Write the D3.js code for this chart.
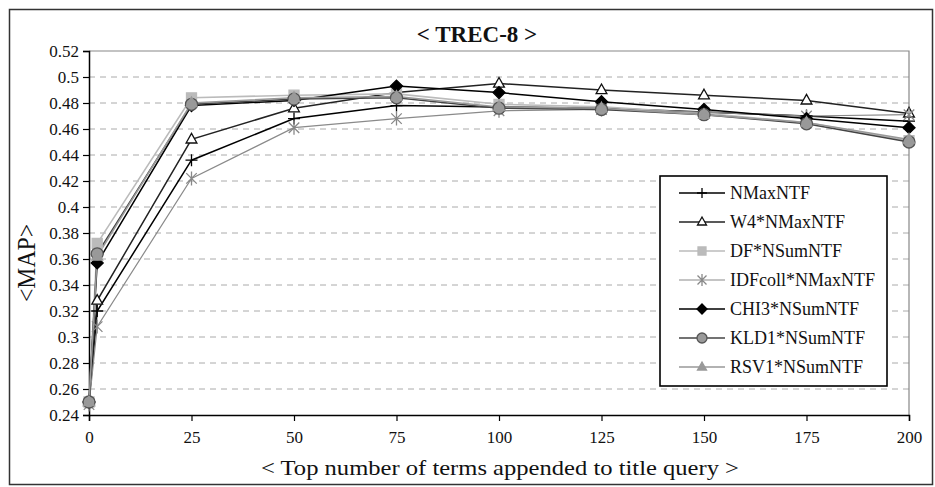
<!DOCTYPE html>
<html>
<head>
<meta charset="utf-8">
<script src="https://cdn.jsdelivr.net/npm/d3@7"></script>
<style>
  html, body { margin: 0; padding: 0; background: #fff; }
  svg { display: block; }
  text { font-family: "Liberation Serif", "Times New Roman", serif; fill: #111; }
</style>
</head>
<body>
<svg id="chart" width="935" height="487"></svg>
<script>
// ---------- DATA ----------
const xValues = [0, 2, 25, 50, 75, 100, 125, 150, 175, 200];
const seriesNames = ["NMaxNTF", "W4*NMaxNTF", "DF*NSumNTF", "IDFcoll*NMaxNTF", "CHI3*NSumNTF", "KLD1*NSumNTF", "RSV1*NSumNTF"];
const nmaxntf   = [0.250, 0.320, 0.436, 0.468, 0.478, 0.477, 0.476, 0.473, 0.470, 0.466];
const w4nmax    = [0.250, 0.328, 0.452, 0.476, 0.488, 0.495, 0.490, 0.486, 0.482, 0.472];
const dfnsum    = [0.250, 0.372, 0.484, 0.486, 0.487, 0.479, 0.477, 0.472, 0.465, 0.451];
const idfcoll   = [0.248, 0.308, 0.422, 0.461, 0.468, 0.474, 0.475, 0.473, 0.470, 0.471];
const chi3nsum  = [0.250, 0.357, 0.478, 0.482, 0.493, 0.488, 0.481, 0.475, 0.468, 0.461];
const kld1nsum  = [0.250, 0.364, 0.479, 0.483, 0.484, 0.476, 0.475, 0.471, 0.464, 0.450];
const rsv1nsum  = [0.250, 0.362, 0.480, 0.484, 0.485, 0.477, 0.476, 0.471, 0.465, 0.452];
const xTicks = [0, 25, 50, 75, 100, 125, 150, 175, 200];
const yTicks = [0.24, 0.26, 0.28, 0.30, 0.32, 0.34, 0.36, 0.38, 0.40, 0.42, 0.44, 0.46, 0.48, 0.50, 0.52];
const chartTitle = "< TREC-8 >";
const xTitle = "< Top number of terms appended to title query >";
const yTitle = "<MAP>";

// ---------- STYLE ----------
const seriesValues = [nmaxntf, w4nmax, dfnsum, idfcoll, chi3nsum, kld1nsum, rsv1nsum];
const styles = [
  { line: "#000", lw: 1.5, marker: "plus",     fill: "none", stroke: "#000", size: 6 },
  { line: "#222", lw: 1.5, marker: "triangle", fill: "#fff", stroke: "#111", size: 6 },
  { line: "#bbb", lw: 1.6, marker: "square",   fill: "#bbb", stroke: "#bbb", size: 5 },
  { line: "#8a8a8a", lw: 1.2, marker: "star",  fill: "none", stroke: "#888", size: 7 },
  { line: "#000", lw: 1.5, marker: "diamond",  fill: "#000", stroke: "#000", size: 6 },
  { line: "#444", lw: 1.5, marker: "circle",   fill: "#9a9a9a", stroke: "#555", size: 6 },
  { line: "#999", lw: 1.5, marker: "gtriangle",fill: "#999", stroke: "#999", size: 6 }
];

function markerPath(type, s) {
  switch (type) {
    case "plus": return `M${-s},0H${s}M0,${-s}V${s}`;
    case "triangle":
    case "gtriangle": return `M0,${-s}L${s*0.9},${s*0.6}L${-s*0.9},${s*0.6}Z`;
    case "square": return `M${-s},${-s}H${s}V${s}H${-s}Z`;
    case "star": { const d = s*0.75; return `M${-d},${-d}L${d},${d}M${-d},${d}L${d},${-d}M0,${-s}V${s}`; }
    case "diamond": return `M0,${-s}L${s},0L0,${s}L${-s},0Z`;
    case "circle": return `M${s},0A${s},${s},0,1,1,${-s},0A${s},${s},0,1,1,${s},0Z`;
  }
}

// ---------- LAYOUT ----------
const svg = d3.select("#chart");
const L = 89, R = 909, T = 51, B = 415;
const x = d3.scaleLinear().domain([0, 200]).range([L, R]);
const y = d3.scaleLinear().domain([0.24, 0.52]).range([B, T]);

// outer frame
svg.append("rect").attr("x", 9.5).attr("y", 9.5).attr("width", 923).attr("height", 475)
  .attr("fill", "#fff").attr("stroke", "#333").attr("stroke-width", 1.5);

// gridlines
svg.append("g").selectAll("line").data(yTicks.filter(v => v > 0.245 && v < 0.515)).join("line")
  .attr("x1", L).attr("x2", R).attr("y1", d => y(d)).attr("y2", d => y(d))
  .attr("stroke", "#aaa").attr("stroke-width", 1).attr("stroke-dasharray", "6,5");

// plot area top/right border
svg.append("path").attr("d", `M${L},${T}H${R}V${B}`).attr("fill", "none").attr("stroke", "#888").attr("stroke-width", 1.2);

// axes
const yAxis = d3.axisLeft(y).tickValues(yTicks).tickFormat(d => String(+d.toFixed(2))).tickSize(6).tickPadding(4);
const gy = svg.append("g").attr("transform", `translate(${L},0)`).call(yAxis);
const xAxis = d3.axisBottom(x).tickValues(xTicks).tickFormat(d3.format("d")).tickSize(6).tickPadding(10);
const gx = svg.append("g").attr("transform", `translate(0,${B})`).call(xAxis);
[gx, gy].forEach(g => {
  g.select(".domain").attr("stroke", "#000").attr("stroke-width", 1.5);
  g.selectAll(".tick line").attr("stroke", "#000").attr("stroke-width", 1.2);
  g.selectAll(".tick text").attr("font-family", "Liberation Serif").attr("font-size", 17).attr("fill", "#111");
});
gy.selectAll(".tick text").attr("dy", "0.35em");

// lines and markers
const lineGen = d3.line().x(d => x(d.x)).y(d => y(d.y));
seriesValues.forEach((vals, i) => {
  const st = styles[i];
  const pts = xValues.map((xv, j) => ({ x: xv, y: vals[j] }));
  svg.append("path").datum(pts).attr("d", lineGen).attr("fill", "none")
    .attr("stroke", st.line).attr("stroke-width", st.lw);
});
seriesValues.forEach((vals, i) => {
  const st = styles[i];
  const pts = xValues.map((xv, j) => ({ x: xv, y: vals[j] }));
  svg.append("g").selectAll("path").data(pts).join("path")
    .attr("transform", d => `translate(${x(d.x)},${y(d.y)})`)
    .attr("d", markerPath(st.marker, st.size))
    .attr("fill", st.fill).attr("stroke", st.stroke).attr("stroke-width", 1.3);
});

// title
svg.append("text").attr("x", 477).attr("y", 42).attr("text-anchor", "middle")
  .attr("font-size", 23).attr("font-weight", "bold").text(chartTitle);

// axis titles
svg.append("text").attr("x", 500).attr("y", 475).attr("text-anchor", "middle")
  .attr("font-size", 21).attr("textLength", 478).attr("lengthAdjust", "spacingAndGlyphs").text(xTitle);
svg.append("text").attr("transform", `translate(35,${(T + B) / 2 + 30}) rotate(-90)`)
  .attr("text-anchor", "middle").attr("font-size", 25).attr("textLength", 78)
  .attr("lengthAdjust", "spacingAndGlyphs").text(yTitle);

// legend
const lg = svg.append("g");
const LX = 660, LY = 176, LW = 227, LH = 210;
lg.append("rect").attr("x", LX).attr("y", LY).attr("width", LW).attr("height", LH)
  .attr("fill", "#fff").attr("stroke", "#000").attr("stroke-width", 1.6);
seriesNames.forEach((name, i) => {
  const st = styles[i];
  const cy = LY + 17 + i * 29;
  lg.append("line").attr("x1", LX + 19).attr("x2", LX + 65).attr("y1", cy).attr("y2", cy)
    .attr("stroke", st.line).attr("stroke-width", st.lw);
  lg.append("path").attr("transform", `translate(${LX + 42},${cy})`)
    .attr("d", markerPath(st.marker, st.size - 1))
    .attr("fill", st.fill).attr("stroke", st.stroke).attr("stroke-width", 1.3);
  lg.append("text").attr("x", LX + 70).attr("y", cy).attr("dy", "0.35em")
    .attr("font-size", 18).text(name);
});
</script>
</body>
</html>
